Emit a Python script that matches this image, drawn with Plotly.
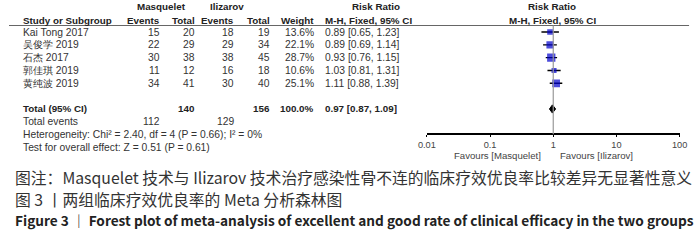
import plotly.graph_objects as go

# ---------------- data ----------------
studies = ["Kai Tong 2017", "吴俊学 2019", "石杰 2017", "郭佳琪 2019", "黄纯波 2019"]
masq_events = [15, 22, 30, 11, 34]
masq_total = [20, 29, 38, 12, 41]
iliz_events = [18, 29, 38, 16, 30]
iliz_total = [19, 34, 45, 18, 40]
weights = [13.6, 22.1, 28.7, 10.6, 25.1]
rr = [0.89, 0.89, 0.93, 1.03, 1.11]
rr_lo = [0.65, 0.69, 0.76, 0.81, 0.88]
rr_hi = [1.23, 1.14, 1.15, 1.31, 1.39]

total_masq = 140
total_iliz = 156
total_weight = 100.0
total_rr = 0.97
total_lo = 0.87
total_hi = 1.09
total_events_masq = 112
total_events_iliz = 129
heterogeneity = "Heterogeneity: Chi² = 2.40, df = 4 (P = 0.66); I² = 0%"
overall_test = "Test for overall effect: Z = 0.51 (P = 0.61)"

tick_vals = [0.01, 0.1, 1, 10, 100]
tick_text = ["0.01", "0.1", "1", "10", "100"]
favours_left = "Favours [Masquelet]"
favours_right = "Favours [Ilizarov]"

caption1 = "图注：Masquelet 技术与 Ilizarov 技术治疗感染性骨不连的临床疗效优良率比较差异无显著性意义"
caption2 = "图 3 丨两组临床疗效优良率的 Meta 分析森林图"
caption3 = "Figure 3 ｜ Forest plot of meta-analysis of excellent and good rate of clinical efficacy in the two groups"

# ---------------- layout helpers ----------------
W, H = 700, 241
ROW0, ROWH = 32.0, 12.83  # pixel of first study row, row spacing


def px(x):
    return x / W


def py(y):
    return 1 - y / H


def prow(p):
    return (p - ROW0) / ROWH


FONT = "Liberation Sans, Arial, sans-serif"
TXT = "#333333"
FS = 10.3
FSB = 9.8

fig = go.Figure()

# CI lines
xs, ys = [], []
for i in range(len(studies)):
    xs += [rr_lo[i], rr_hi[i], None]
    ys += [i, i, None]
fig.add_trace(go.Scatter(x=xs, y=ys, mode="lines", line=dict(color="black", width=1.4),
                         hoverinfo="skip", showlegend=False))
# squares
fig.add_trace(go.Scatter(x=rr, y=list(range(len(studies))), mode="markers",
                         marker=dict(symbol="square", color="#0000cc",
                                     size=[1.55 * w ** 0.5 for w in weights],
                                     line=dict(width=0)),
                         hoverinfo="skip", showlegend=False))
# diamond
tr = len(studies) + 1
dh = 0.32
fig.add_trace(go.Scatter(x=[total_lo, total_rr, total_hi, total_rr, total_lo],
                         y=[tr, tr - dh, tr, tr + dh, tr], mode="lines", fill="toself",
                         fillcolor="black", line=dict(color="black", width=1),
                         hoverinfo="skip", showlegend=False))

ann = []


def T(x, row, text, anchor="left", bold=False, size=None, color=TXT):
    if size is None:
        size = FSB if bold else FS
    if bold:
        text = "<b>" + text + "</b>"
    ann.append(dict(x=px(x), y=row, xref="paper", yref="y", text=text, showarrow=False,
                    xanchor=anchor, yanchor="middle",
                    font=dict(family=FONT, size=size, color=color)))


HDR = "#222222"
# headers
hr1, hr2 = prow(6.5), prow(20)
T(156, hr1, "Masquelet", "center", True, color=HDR)
T(223, hr1, "Ilizarov", "center", True, color=HDR)
T(376, hr1, "Risk Ratio", "center", True, color=HDR)
T(557, hr1, "Risk Ratio", "center", True, color=HDR)
T(12, hr2, "Study or Subgroup", "left", True, color=HDR)
T(157, hr2, "Events", "right", True, color=HDR)
T(193, hr2, "Total", "right", True, color=HDR)
T(233, hr2, "Events", "right", True, color=HDR)
T(270, hr2, "Total", "right", True, color=HDR)
T(315, hr2, "Weight", "right", True, color=HDR)
T(322, hr2, "M-H, Fixed, 95% CI", "left", True, color=HDR)
T(557, hr2, "M-H, Fixed, 95% CI", "center", True, color=HDR)

for i, s in enumerate(studies):
    T(12, i, s)
    T(157, i, str(masq_events[i]), "right")
    T(193, i, str(masq_total[i]), "right")
    T(233, i, str(iliz_events[i]), "right")
    T(270, i, str(iliz_total[i]), "right")
    T(315, i, f"{weights[i]:.1f}%", "right")
    T(322, i, f"{rr[i]:.2f} [{rr_lo[i]:.2f}, {rr_hi[i]:.2f}]", "left")

T(12, tr, "Total (95% CI)", "left", True, color=HDR)
T(193, tr, str(total_masq), "right", True, color=HDR)
T(270, tr, str(total_iliz), "right", True, color=HDR)
T(315, tr, f"{total_weight:.1f}%", "right", True, color=HDR)
T(322, tr, f"{total_rr:.2f} [{total_lo:.2f}, {total_hi:.2f}]", "left", True, color=HDR)

T(12, tr + 1, "Total events")
T(157, tr + 1, str(total_events_masq), "right")
T(233, tr + 1, str(total_events_iliz), "right")
T(12, tr + 2, heterogeneity)
T(12, tr + 3, overall_test)

# favours
T(547, prow(155), favours_left, "right", size=9.6, color="#444444")
T(563, prow(155), favours_right, "left", size=9.6, color="#444444")

# captions
CJK = "Noto Sans CJK SC, sans-serif"
ann.append(dict(x=px(4), y=py(177.5), xref="paper", yref="paper", text=caption1, showarrow=False,
                xanchor="left", yanchor="middle", font=dict(family=CJK, size=15.8, color="#333333")))
ann.append(dict(x=px(4), y=py(199.5), xref="paper", yref="paper", text=caption2, showarrow=False,
                xanchor="left", yanchor="middle", font=dict(family=CJK, size=15.8, color="#333333")))
ann.append(dict(x=px(4), y=py(220), xref="paper", yref="paper", text="<b>" + caption3 + "</b>",
                showarrow=False, xanchor="left", yanchor="middle",
                font=dict(family=CJK, size=13.65, color="#222222")))

shapes = [
    dict(type="line", xref="paper", yref="paper", x0=0, x1=px(697), y0=py(25.5), y1=py(25.5),
         line=dict(color="#666666", width=1)),
    dict(type="line", xref="x", yref="paper", x0=1, x1=1, y0=py(25.5), y1=py(134.3),
         line=dict(color="#999999", width=1.2)),
]

fig.update_layout(
    width=W, height=H, margin=dict(l=0, r=0, t=0, b=0),
    paper_bgcolor="white", plot_bgcolor="white",
    annotations=ann, shapes=shapes,
    xaxis=dict(type="log", range=[-2, 2], domain=[px(428.3), px(687.3)],
               anchor="free", position=py(134.3),
               showline=True, linecolor="black", linewidth=1.5,
               tickvals=tick_vals, ticktext=tick_text, ticks="outside", ticklen=2,
               tickcolor="black", tickwidth=1.2,
               tickfont=dict(family=FONT, size=9.2, color="#444444"),
               showgrid=False, zeroline=False, fixedrange=True),
    yaxis=dict(range=[prow(H), prow(0)], domain=[0, 1], visible=False,
               showgrid=False, zeroline=False, fixedrange=True),
)

fig.write_html("out.html", config={"displayModeBar": False},
               post_script="document.body.style.margin='0';document.body.style.overflow='hidden';")
